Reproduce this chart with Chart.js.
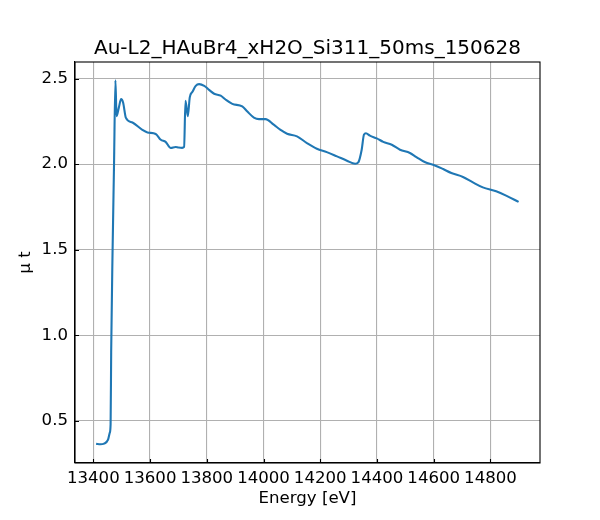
<!DOCTYPE html>
<html>
<head>
<meta charset="utf-8">
<script src="https://cdn.jsdelivr.net/npm/chart.js@4"></script>
<style>
html,body{margin:0;padding:0;background:#fff;}
#wrap{width:600px;height:520px;}
</style>
</head>
<body>
<div id="wrap"><canvas id="c" width="600" height="520"></canvas></div>
<script>
const titleText = "Au-L2_HAuBr4_xH2O_Si311_50ms_150628";
const xLabel = "Energy [eV]";
const yLabel = "\u03bc t";
const xTicks = [13400,13600,13800,14000,14200,14400,14600,14800];
const yTicks = [0.5,1.0,1.5,2.0,2.5];

const energy = [13410,13425,13438,13452,13458,13461,13463,13468,13473,13478,13482,13490,13498,13505,13515,13538,13573,13591,13620,13638,13655,13673,13690,13700,13713,13720,13725,13733,13740,13750,13761,13773,13791,13808,13826,13849,13867,13890,13925,13943,13966,13984,14007,14036,14060,14083,14118,14153,14188,14223,14259,14294,14323,14334,14346,14354,14361,14375,14399,14422,14452,14481,14516,14539,14568,14604,14633,14662,14703,14738,14773,14820,14855,14899];
const mu = [0.365,0.363,0.367,0.39,0.43,0.48,0.9,1.5,1.99,2.49,2.28,2.33,2.38,2.36,2.27,2.243,2.20,2.185,2.176,2.142,2.13,2.094,2.10,2.097,2.095,2.10,2.37,2.28,2.39,2.424,2.457,2.467,2.457,2.434,2.411,2.40,2.376,2.352,2.337,2.307,2.272,2.263,2.263,2.23,2.20,2.177,2.162,2.123,2.09,2.07,2.045,2.02,2.002,2.01,2.084,2.172,2.18,2.166,2.15,2.13,2.113,2.084,2.065,2.041,2.012,1.992,1.971,1.948,1.925,1.893,1.864,1.841,1.816,1.779];

const FONT = "'DejaVu Sans', sans-serif";
const FS = 16.6;
const TFS = 20;

const frame = {
  id: 'frame',
  afterDraw(chart) {
    const {ctx, chartArea: a, scales} = chart;
    ctx.save();
    ctx.strokeStyle = '#000';
    ctx.lineWidth = 1.1;
    ctx.beginPath();
    xTicks.forEach(v => {
      const x = Math.round(scales.x.getPixelForValue(v)) + 0.5;
      ctx.moveTo(x, a.bottom);
      ctx.lineTo(x, a.bottom - 4);
    });
    yTicks.forEach(v => {
      const y = Math.round(scales.y.getPixelForValue(v)) + 0.5;
      ctx.moveTo(a.left, y);
      ctx.lineTo(a.left + 4, y);
    });
    ctx.stroke();
    ctx.strokeRect(a.left, a.top, a.right - a.left, a.bottom - a.top);
    ctx.restore();
  }
};

new Chart(document.getElementById('c'), {
  type: 'line',
  data: {
    datasets: [{
      data: energy.map((e, i) => ({x: e, y: mu[i]})),
      borderColor: '#1f77b4',
      borderWidth: 2.1,
      pointRadius: 0,
      fill: false,
      cubicInterpolationMode: 'monotone'
    }]
  },
  options: {
    responsive: false,
    animation: false,
    devicePixelRatio: 1,
    layout: {padding: {left: 0, right: 60, top: 0, bottom: 0}},
    plugins: {
      legend: {display: false},
      tooltip: {enabled: false},
      title: {
        display: true,
        text: titleText,
        fullSize: false,
        color: '#000',
        font: {family: FONT, size: TFS, weight: 'normal', lineHeight: 1.2},
        padding: {top: 37, bottom: 1}
      }
    },
    scales: {
      x: {
        type: 'linear',
        min: 13335.5,
        max: 14974.5,
        afterBuildTicks: s => { s.ticks = xTicks.map(v => ({value: v})); },
        afterFit: s => { s.height = 57; },
        ticks: {
          color: '#000',
          font: {family: FONT, size: FS},
          padding: 6,
          maxRotation: 0,
          autoSkip: false,
          callback: v => String(v)
        },
        grid: {color: '#b0b0b0', lineWidth: 1.1, drawTicks: false},
        border: {display: true, color: '#000', width: 1.1},
        title: {
          display: true,
          text: xLabel,
          color: '#000',
          font: {family: FONT, size: FS, lineHeight: 1.2},
          padding: {top: 0, bottom: 11}
        }
      },
      y: {
        type: 'linear',
        min: 0.2535,
        max: 2.5965,
        afterBuildTicks: s => { s.ticks = yTicks.map(v => ({value: v})); },
        afterFit: s => { s.width = 75; },
        ticks: {
          color: '#000',
          font: {family: FONT, size: FS},
          padding: 7,
          autoSkip: false,
          callback: v => Number(v).toFixed(1)
        },
        grid: {color: '#b0b0b0', lineWidth: 1.1, drawTicks: false},
        border: {display: true, color: '#000', width: 1.1},
        title: {
          display: true,
          text: yLabel,
          color: '#000',
          font: {family: FONT, size: FS, lineHeight: 1.2},
          padding: {top: 16, bottom: 0}
        }
      }
    }
  },
  plugins: [frame]
});
</script>
</body>
</html>
